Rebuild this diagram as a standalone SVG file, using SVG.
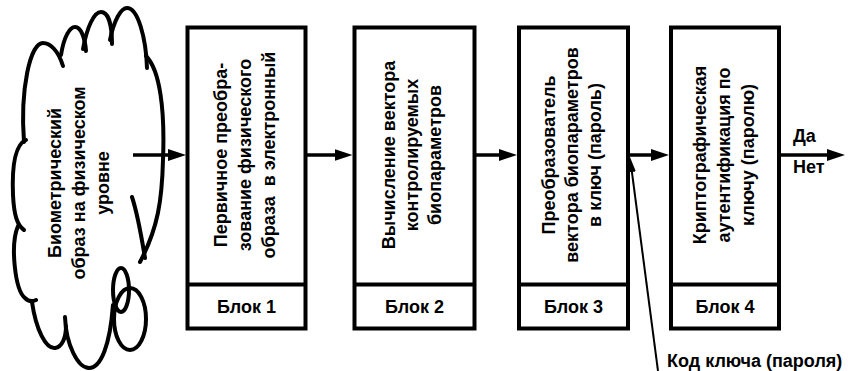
<svg xmlns="http://www.w3.org/2000/svg" width="848" height="371" viewBox="0 0 848 371">
<style>
  .box { fill: #fff; stroke: #000; stroke-width: 4; }
  .div { stroke: #000; stroke-width: 4; }
  .cloud { fill: none; stroke: #000; stroke-width: 4; stroke-linecap: round; }
  .t { font-family: "Liberation Sans", Arial, sans-serif; font-size: 18px; font-weight: bold; fill: #000; }
  .tc { text-anchor: middle; }
  .conn { stroke: #000; stroke-width: 3.5; fill: none; }
  .thin { stroke: #000; stroke-width: 2; fill: none; }
</style>
<defs>
  <marker id="ah" viewBox="0 0 18 12" refX="8" refY="6" markerWidth="18" markerHeight="12" markerUnits="userSpaceOnUse" orient="auto">
    <path d="M0,0 L18,6 L0,12 z" fill="#000"/>
  </marker>
  <marker id="ahs" viewBox="0 0 15 8" refX="7" refY="4" markerWidth="15" markerHeight="8" markerUnits="userSpaceOnUse" orient="auto">
    <path d="M0,0 L15,4 L0,8 z" fill="#000"/>
  </marker>
</defs>

<g id="cloud">
  <path class="cloud" d="M63,66 C58,50 50,43 43,43 C30,43 20,90 24,142"/>
  <path class="cloud" d="M61,55 C64,36 70,27 75,27 C81,27 85,38 86,51"/>
  <path class="cloud" d="M83,49 C87,27 94,12 101,12 C108,12 112,24 112,44"/>
  <path class="cloud" d="M110,40 C114,20 121,8 127,8 C138,8 146,38 147,68"/>
  <path class="cloud" d="M146,56 C160,70 165,110 163,160 C162,200 158,228 140,262"/>
  <path class="cloud" d="M132,197 C138,215 142,240 145,258"/>
  <path class="cloud" d="M26,140 C14,145 12,170 13,195 C14,215 17,225 24,230"/>
  <path class="cloud" d="M18,226 C10,245 15,290 25,298 C28,301 32,302 36,300"/>
  <path class="cloud" d="M32,302 C36,330 46,349 55,348 C62,347 66,338 66,326"/>
  <path class="cloud" d="M65,317 C66,345 78,368 89,368 C101,368 110,345 113,305"/>
  <ellipse class="cloud" cx="121" cy="290" rx="8" ry="22"/>
  <ellipse class="cloud" cx="130" cy="319" rx="16" ry="31"/>
  <text class="t tc" transform="translate(61,183) rotate(-90)"><tspan x="0" dy="0">Биометрический</tspan><tspan x="0" dy="24">образ на физическом</tspan><tspan x="0" dy="24">уровне</tspan></text>
</g>

<g id="block1">
  <rect class="box" x="187.5" y="27.5" width="118" height="301"/>
  <line class="div" x1="187.5" y1="284.5" x2="305.5" y2="284.5"/>
  <text class="t tc" transform="translate(227,155) rotate(-90)"><tspan x="0" dy="0">Первичное преобра-</tspan><tspan x="0" dy="24">зование физического</tspan><tspan x="0" dy="24" xml:space="preserve">образа  в электронный</tspan></text>
  <text class="t tc" x="246.5" y="313">Блок 1</text>
</g>

<g id="block2">
  <rect class="box" x="354.5" y="27.5" width="120" height="301"/>
  <line class="div" x1="354.5" y1="284.5" x2="474.5" y2="284.5"/>
  <text class="t tc" transform="translate(395,155) rotate(-90)"><tspan x="0" dy="0">Вычисление вектора</tspan><tspan x="0" dy="23">контролируемых</tspan><tspan x="0" dy="23">биопараметров</tspan></text>
  <text class="t tc" x="414.5" y="313">Блок 2</text>
</g>

<g id="block3">
  <rect class="box" x="519" y="27.5" width="109" height="301"/>
  <line class="div" x1="519" y1="284.5" x2="628" y2="284.5"/>
  <text class="t tc" transform="translate(555,155) rotate(-90)"><tspan x="0" dy="0">Преобразователь</tspan><tspan x="0" dy="23">вектора биопараметров</tspan><tspan x="0" dy="23">в ключ (пароль)</tspan></text>
  <text class="t tc" x="573.5" y="313">Блок 3</text>
</g>

<g id="block4">
  <rect class="box" x="671" y="27.5" width="108" height="301"/>
  <line class="div" x1="671" y1="284.5" x2="779" y2="284.5"/>
  <text class="t tc" transform="translate(706,155) rotate(-90)"><tspan x="0" dy="0">Криптографическая</tspan><tspan x="0" dy="24">аутентификация по</tspan><tspan x="0" dy="24">ключу (паролю)</tspan></text>
  <text class="t tc" x="725" y="313">Блок 4</text>
</g>

<g id="connectors">
  <line class="conn" x1="133" y1="155" x2="176" y2="155" marker-end="url(#ah)"/>
  <line class="conn" x1="305.5" y1="155" x2="342.5" y2="155" marker-end="url(#ah)"/>
  <line class="conn" x1="474.5" y1="155" x2="507" y2="155" marker-end="url(#ah)"/>
  <line class="conn" x1="628" y1="155" x2="659" y2="155" marker-end="url(#ah)"/>
  <line class="conn" x1="779" y1="155" x2="835" y2="155" marker-end="url(#ah)"/>
  <line class="thin" x1="658" y1="371" x2="631" y2="165" marker-end="url(#ahs)"/>
</g>

<g id="labels">
  <text class="t" x="793" y="142">Да</text>
  <text class="t" x="793" y="173">Нет</text>
  <text class="t" x="667" y="367">Код ключа (пароля)</text>
</g>
</svg>
